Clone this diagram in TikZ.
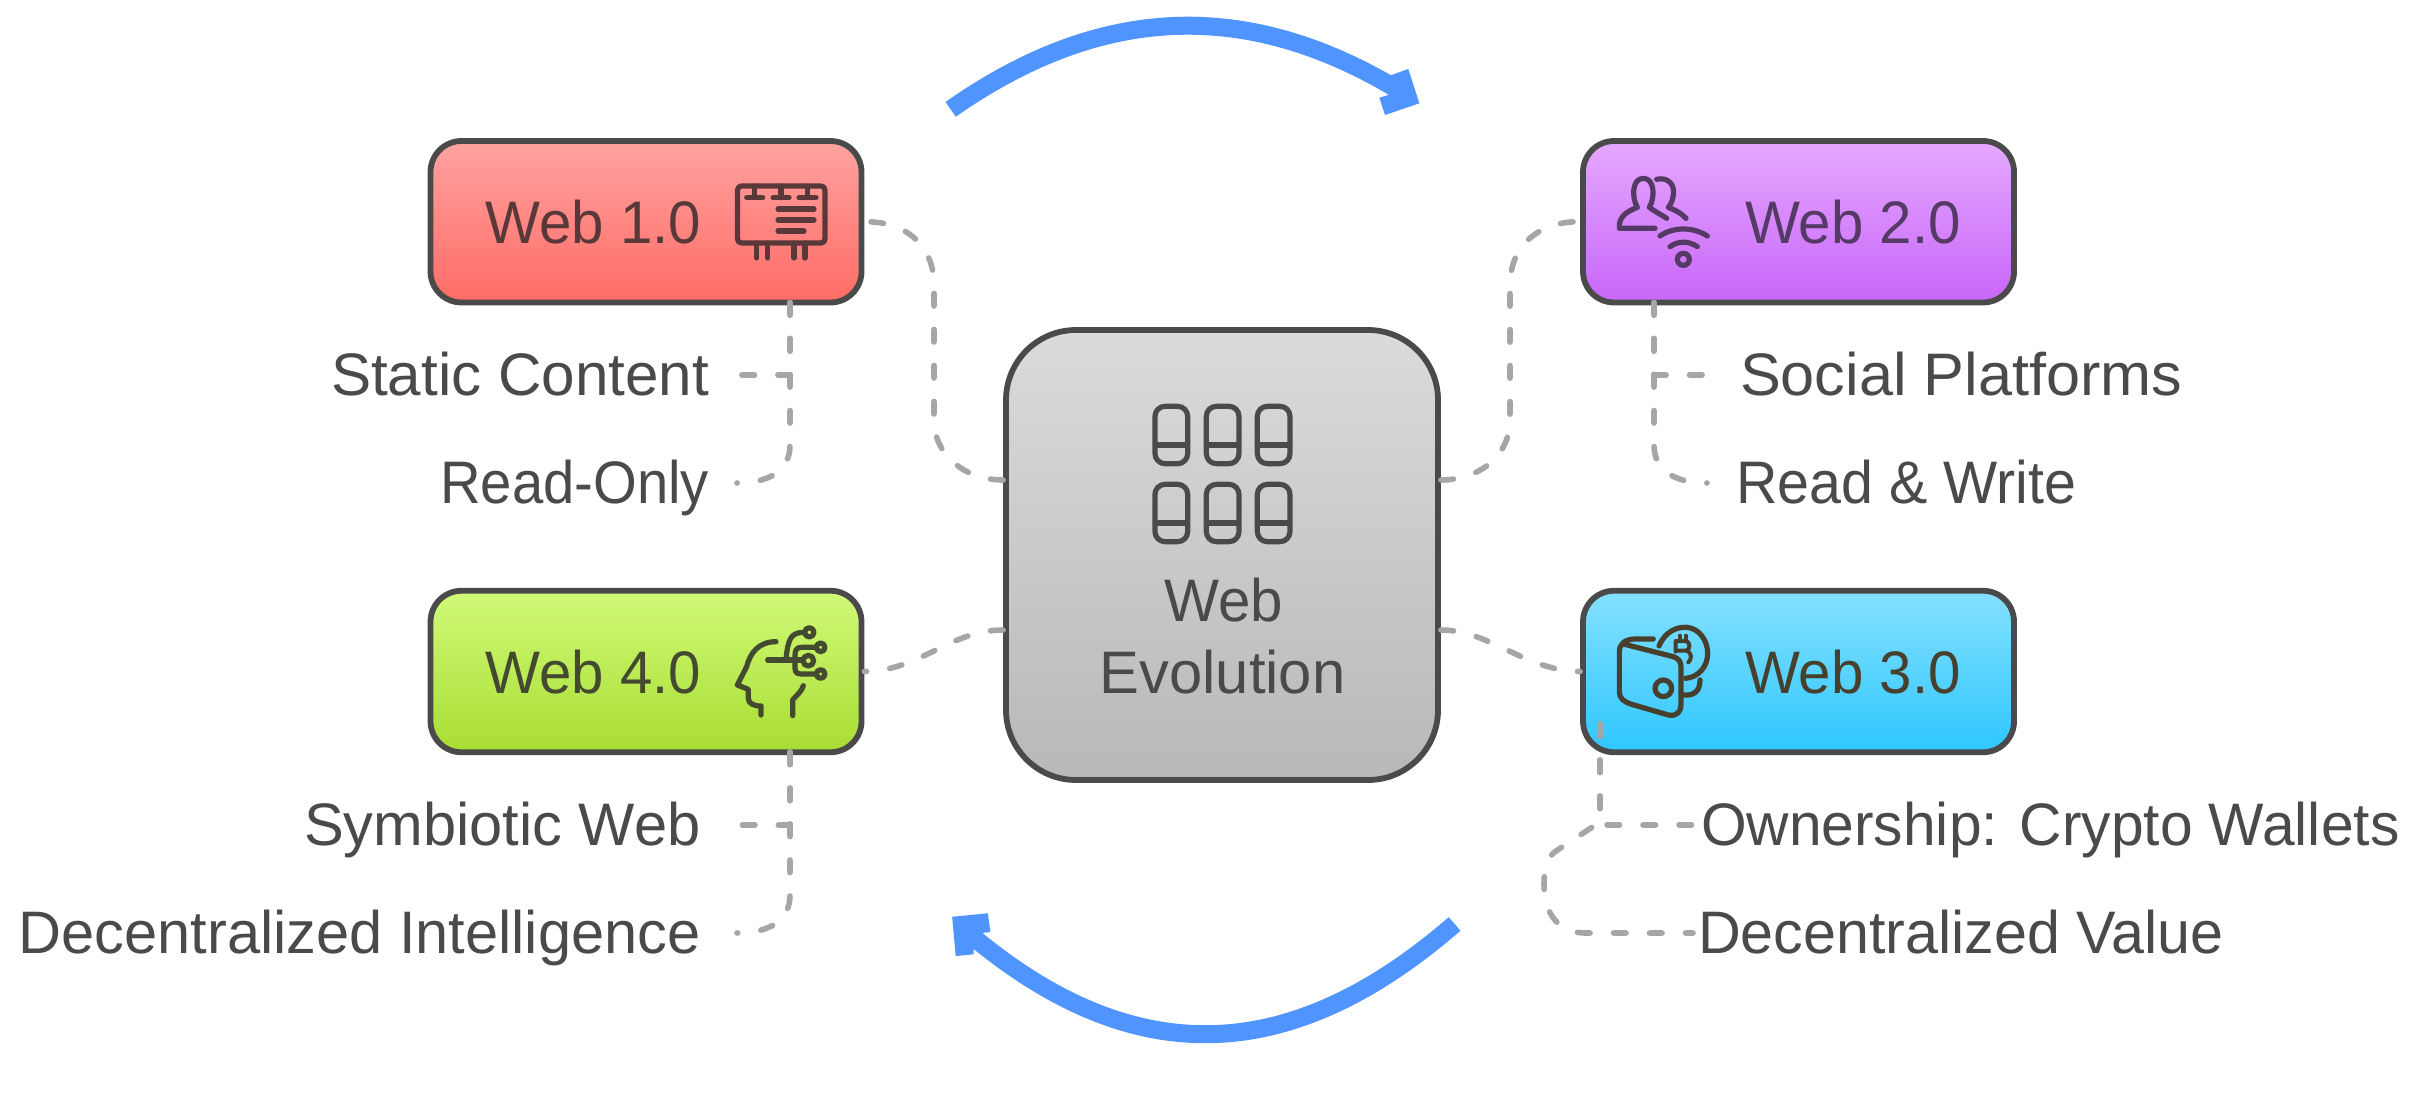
\documentclass[tikz,border=0pt]{standalone}
\usepackage{fontspec}
\setmainfont[FakeStretch=0.97]{Liberation Sans}
\newcommand{\widen}[2]{\scalebox{#1}[1]{#2}}
\definecolor{ink}{HTML}{4A4A4A}
\definecolor{conn}{HTML}{A6A6A6}
\definecolor{flow}{HTML}{5094FF}
\definecolor{inkred}{HTML}{583838}
\definecolor{inkpur}{HTML}{553A66}
\definecolor{inkgrn}{HTML}{444A30}
\definecolor{inkblu}{HTML}{48402C}
\definecolor{hubtop}{HTML}{DBDBDB}
\definecolor{hubbot}{HTML}{B8B8B8}
\definecolor{redt}{HTML}{FFA3A0}
\definecolor{redb}{HTML}{FF6B66}
\definecolor{purt}{HTML}{E6A8FF}
\definecolor{purb}{HTML}{C766F8}
\definecolor{grnt}{HTML}{D0FA78}
\definecolor{grnb}{HTML}{A8DD33}
\definecolor{blut}{HTML}{85E0FF}
\definecolor{blub}{HTML}{2EC7FF}
\tikzset{
  era/.style={draw=ink,line width=2.9pt,rounded corners=15.5pt,minimum width=215.5pt,minimum height=80.75pt,inner sep=0pt},
  hub/.style={draw=ink,line width=2.9pt,rounded corners=35pt,minimum width=216pt,minimum height=225pt,inner sep=0pt,top color=hubtop,bottom color=hubbot},
  title/.style={inner sep=0pt,outer sep=0pt,font=\fontsize{30}{36}\selectfont},
  link/.style={draw=conn,line width=2.8pt,line cap=round,dash pattern=on 6.3pt off 11.7pt},
  icon/.style={line width=2.6pt,line cap=round,line join=round},
  sweep/.style={draw=flow,line width=9pt},
  tip/.style={fill=flow,draw=none}
}
\begin{document}
\begin{tikzpicture}[x=.5pt,y=-.5pt]
\useasboundingbox (0,0) rectangle (2419,1113);
\fill[white] (0,0) rectangle (2419,1113);

% arrows
\begin{scope}[shift={(920,0)},scale=1/3]
\draw[sweep] (92,328) .. controls (537,16) and (977,-8) .. (1440,273);
\fill[tip] (1412,226)--(1465,207)--(1498,310)--(1395,345)--(1378,293)--(1405,285)--cycle;
\end{scope}
\begin{scope}[shift={(920,890)},scale=1/2.8]
\draw[sweep] (1497,95) .. controls (1030,500) and (590,505) .. (135,120);
\fill[tip] (90,75)--(190,65)--(197,118)--(175,120)--(150,168)--(150,180)--(100,185)--cycle;
\end{scope}

% boxes
\node[era,top color=redt,bottom color=redb] (web1) at (646,221.75) {};
\node[era,top color=purt,bottom color=purb] (web2) at (1798.5,221.75) {};
\node[era,top color=grnt,bottom color=grnb] (web4) at (646,671.5) {};
\node[era,top color=blut,bottom color=blub] (web3) at (1798.5,671.5) {};
\node[hub] (hub) at (1222,555) {};

% box titles
\node[title,anchor=base west,text=inkred] (t1) at (485.5,243) {Web 1.0};
\node[title,anchor=base west,text=inkpur] (t2) at (1745,243) {Web 2.0};
\node[title,anchor=base west,text=inkgrn] (t4) at (485.5,693) {Web 4.0};
\node[title,anchor=base west,text=inkblu] (t3) at (1745,693) {Web 3.0};
\node[title,anchor=base,text=ink] (h1) at (1224,621) {Web};
\node[title,anchor=base,text=ink] (h2) at (1222.5,693) {\widen{1.026}{Evolution}};

% side labels
\node[title,anchor=base east,text=ink] (l1a) at (709,395) {\widen{1.034}{Static Content}};
\node[title,anchor=base east,text=ink] (l1b) at (709,503) {\widen{0.966}{Read-Only}};
\node[title,anchor=base west,text=ink] (l2a) at (1740,395) {\widen{1.052}{Social Platforms}};
\node[title,anchor=base west,text=ink] (l2b) at (1736,503) {\widen{0.986}{Read \& Write}};
\node[title,anchor=base east,text=ink] (l4a) at (700.5,845) {\widen{1.024}{Symbiotic Web}};
\node[title,anchor=base east,text=ink] (l4b) at (700.5,953) {\widen{1.023}{Decentralized Intelligence}};
\node[title,anchor=base west,text=ink] (l3a) at (1701,845) {\widen{1.009}{Ownership: Crypto Wallets}};
\node[title,anchor=base west,text=ink] (l3b) at (1698,953) {\widen{1.018}{Decentralized Value}};

% connector ends
\coordinate (hw1) at (hub.west |- 0,480);
\coordinate (hw2) at (hub.west |- 0,630);
\coordinate (he1) at (hub.east |- 0,480);
\coordinate (he2) at (hub.east |- 0,630);
\coordinate (s1) at (790,302.5);
\coordinate (s2) at (1654,302.5);
\coordinate (s4) at (790,752);
\coordinate (s3) at (1600,724);
\coordinate (e1a) at (737,375);
\coordinate (e1b) at (737,483);
\coordinate (e2a) at (1707,375);
\coordinate (e2b) at (1707,483);
\coordinate (e4a) at (737,825);
\coordinate (e4b) at (737,933);
\coordinate (e3a) at (1698,825);
\coordinate (e3b) at (1693,933);

% connectors
\draw[link] (hw1) .. controls (965,480) and (934,455) .. (934,420) -- (934,285) .. controls (934,245) and (905,221) .. (web1.east);
\draw[link] (he1) .. controls (1480,480) and (1510,455) .. (1510,420) -- (1510,285) .. controls (1510,245) and (1540,221) .. (web2.west);
\draw[link] (hw2) .. controls (950,630) and (920,671) .. (web4.east);
\draw[link] (he2) .. controls (1490,630) and (1525,671) .. (web3.west);
\draw[link] (s1) -- (790,375) -- (e1a);
\draw[link] (s1) -- (790,445) .. controls (790,470) and (770,483) .. (e1b);
\draw[link] (s2) -- (1654,375) -- (e2a);
\draw[link] (s2) -- (1654,445) .. controls (1654,470) and (1674,483) .. (e2b);
\draw[link] (s4) -- (790,825) -- (e4a);
\draw[link] (s4) -- (790,895) .. controls (790,920) and (770,933) .. (e4b);
\draw[link] (s3) -- (1600,825) -- (e3a);
\draw[link] (s3) -- (1600,822) -- (1556,851) .. controls (1546,858) and (1544,870) .. (1544,885) .. controls (1544,915) and (1560,933) .. (1585,933) -- (e3b);

% billboard icon
\begin{scope}[icon,draw=inkred]
\draw[rounded corners=2pt] (737.5,186) rectangle (825,243);
\draw (746.7,197.7)--(762.7,197.7) (754.3,186)--(754.3,197.7);
\draw (773,197.7)--(789,197.7) (781,186)--(781,197.7);
\draw (799,197.7)--(816,197.7) (807.7,186)--(807.7,197.7);
\draw (778,209)--(814,209) (778,220)--(814,220) (778,231)--(804,231);
\draw (756.7,243)--(756.7,258) (767.7,243)--(767.7,258) (794,243)--(794,258) (805,243)--(805,258);
\end{scope}

% people and wifi icon
\begin{scope}[shift={(1560,120)},scale=1/3,icon,draw=inkpur]
\draw (285,325)--(178,325) .. controls (175,290) and (200,275) .. (232,262) .. controls (215,235) and (215,175) .. (250,175) .. controls (285,175) and (285,235) .. (268,262) .. controls (285,275) and (305,285) .. (320,295);
\draw (290,178) .. controls (325,170) and (345,195) .. (340,225) .. controls (338,245) and (330,255) .. (325,262) .. controls (345,270) and (365,280) .. (378,295);
\draw (300,348) .. controls (340,320) and (400,320) .. (442,348);
\draw (330,380) .. controls (355,362) and (385,362) .. (412,380);
\draw (370,418) circle (18);
\end{scope}

% head and circuit icon
\begin{scope}[shift={(400,570)},scale=1/3,icon,draw=inkgrn]
\draw (1128,215) .. controls (1075,215) and (1050,250) .. (1040,290) -- (1012,345) -- (1045,358) -- (1045,385) .. controls (1045,400) and (1060,408) .. (1083,408) -- (1083,435);
\draw (1210,347) .. controls (1205,365) and (1190,375) .. (1178,390) -- (1178,437);
\draw (1103,270)--(1205,270);
\draw (1158,265) .. controls (1165,210) and (1170,187) .. (1212,187);
\draw (1228,187) circle (14);
\draw (1248,232)--(1205,232) .. controls (1190,232) and (1185,240) .. (1185,255) -- (1185,295) .. controls (1185,310) and (1195,312) .. (1205,312) -- (1248,312);
\draw (1262,232) circle (13);
\draw (1262,312) circle (13);
\draw (1225,272) circle (16);
\end{scope}

% wallet icon
\begin{scope}[shift={(1520,570)},scale=1/3,icon,draw=inkblu]
\draw (400,207)--(345,207) .. controls (318,207) and (298,220) .. (298,245) -- (298,365) .. controls (298,385) and (310,395) .. (335,403) -- (445,435) .. controls (470,440) and (483,425) .. (483,405) -- (483,290) .. controls (483,275) and (475,265) .. (460,260) -- (310,222);
\draw (430,355) circle (25);
\draw (417,228) .. controls (435,185) and (470,170) .. (500,172) .. controls (540,175) and (563,215) .. (563,250) .. controls (563,290) and (535,322) .. (497,325);
\draw (490,375) .. controls (520,378) and (540,365) .. (540,330);
\draw[line width=2pt] (467,213)--(497,213) .. controls (512,213) and (512,242) .. (497,242) -- (467,242) (467,213)--(467,245) (497,242) .. controls (518,245) and (515,270) .. (505,277);
\draw[line width=2pt] (480,197)--(480,212) (497,197)--(497,212);
\end{scope}

% hub icon
\begin{scope}[shift={(980,310)},scale=1/3,icon,draw=ink]
\foreach \cx in {525,679,832}{
  \foreach \cy in {289,523}{
    \draw[rounded corners=5pt] (\cx,\cy) rectangle (\cx+98,\cy+172);
    \draw[line cap=butt] (\cx,\cy+116)--(\cx+98,\cy+116);
  }
}
\end{scope}
\end{tikzpicture}
\end{document}
